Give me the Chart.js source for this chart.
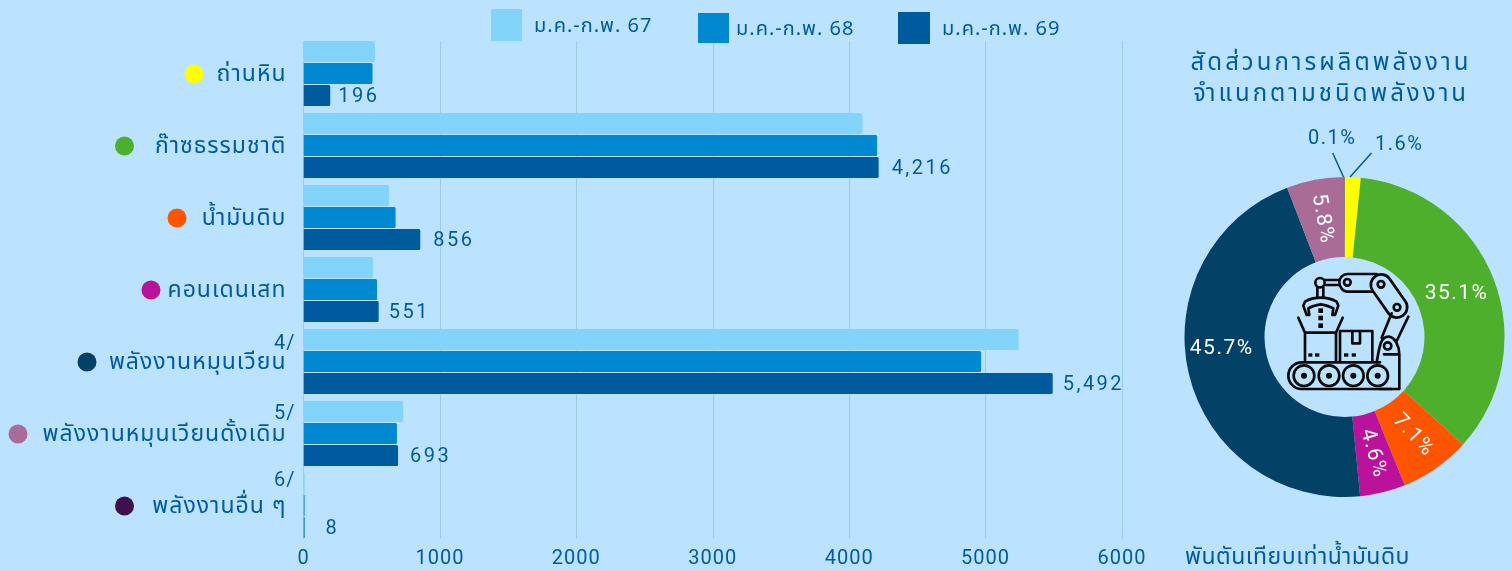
<!DOCTYPE html>
<html><head><meta charset="utf-8">
<style>
html,body{margin:0;padding:0;background:#BBE3FF;width:1512px;height:571px;overflow:hidden}
canvas{position:absolute}
#wrapBar{position:absolute;left:0;top:0;width:1512px;height:571px}
#wrapPie{position:absolute;left:1177px;top:0;width:335px;height:571px}
svg{position:absolute;left:1170px;top:260px}
</style>
<script src="https://cdn.jsdelivr.net/npm/chart.js@4"></script>
</head><body>
<div id="wrapBar"><canvas id="bar"></canvas></div>
<div id="wrapPie"><canvas id="pie"></canvas></div>
<svg width="342" height="311" viewBox="0 0 1026 933" fill="none" stroke="#0a0a0a" stroke-width="8" stroke-linejoin="round" stroke-linecap="round">
<g transform="translate(330 15)">
<path d="M335 372H65C43 372 25 354 25 332C25 310 43 292 65 292H300"/>
<path d="M300 372H358V268C358 245 345 215 325 215C300 215 298 250 290 292M312 268H358"/>
<circle cx="323" cy="243" r="11"/>
<g><circle cx="72" cy="332" r="31"/><circle cx="147" cy="332" r="31"/><circle cx="220" cy="332" r="31"/><circle cx="293" cy="332" r="31"/></g>
<g fill="#0a0a0a" stroke="none"><circle cx="72" cy="332" r="9"/><circle cx="147" cy="332" r="9"/><circle cx="220" cy="332" r="9"/><circle cx="293" cy="332" r="9"/>
<rect x="85" y="265" width="12" height="10"/><rect x="105" y="265" width="13" height="10"/><rect x="192" y="265" width="13" height="10"/><rect x="215" y="265" width="13" height="10"/>
<rect x="115" y="130" width="14" height="14"/><rect x="115" y="152" width="14" height="14"/><rect x="115" y="175" width="14" height="14"/></g>
<path d="M75 288V203H168V288M75 203L55 158M168 203L188 158"/>
<path d="M180 288V198H277V288M217 198V235H240V198"/>
<path d="M305 218L335 145M350 228L385 155"/>
<rect x="255" y="62" width="144" height="62" rx="31" transform="rotate(55 327 93)"/>
<circle cx="303" cy="58" r="10"/><circle cx="351" cy="127" r="10"/>
<path d="M290 27H203C189 27 178 38 178 52C178 67 189 80 203 80H278"/>
<circle cx="202" cy="52" r="10"/>
<path d="M135 45H178M135 60H178"/>
<circle cx="120" cy="53" r="14"/>
<path d="M112 68V97M130 68V97"/>
<path d="M122 98C110 98 88 102 75 110L70 122L80 150H88L85 130C95 124 110 120 122 118C134 120 150 124 160 130L157 150H165L175 122L170 110C156 102 134 98 122 98Z"/>
</g>
</svg>
<script>
const categories = ["ถ่านหิน","ก๊าซธรรมชาติ","น้ำมันดิบ","คอนเดนเสท","พลังงานหมุนเวียน","พลังงานหมุนเวียนดั้งเดิม","พลังงานอื่น ๆ"];
const notes = ["","","","","4/","5/","6/"];
const series67 = [524,4098,627,510,5242,730,9];
const series68 = [506,4205,675,539,4967,685,8];
const series69 = [196,4216,856,551,5492,693,8];
const seriesNames = ["ม.ค.-ก.พ. 67","ม.ค.-ก.พ. 68","ม.ค.-ก.พ. 69"];
const seriesColors = ["#82D4FB","#0088D1","#005A9E"];
const sliceColors = ["#FFFF00","#4DAF2C","#FF5500","#BA129A","#034166","#A96C96","#3E1050"];
const xTicks = [0,1000,2000,3000,4000,5000,6000];
const sliceTurn = [0,0,47,74,0,80,0];

const INK="#005A9E";
const FF = '"Noto Sans Thai","Noto Sans","DejaVu Sans",sans-serif';
const NUM = 'Roboto,"Open Sans",sans-serif';
function txt(ctx,s,x,y,font,color,align,ls){
  ctx.save();ctx.font=font;ctx.fillStyle=color;ctx.textAlign=align||"left";ctx.textBaseline="middle";
  ctx.letterSpacing=(ls||0)+"px";ctx.fillText(s,x,y);ctx.restore();
}
const labelGaps=[8,13,13,10,10,12,21];
const noteShift=[0,0,0,0,-17.5,-19.5,-24.5];
const dotX=[194,124.5,177,151,87,18,124.5];
const legendPos=[[491,9,31,32,534,28],[698,13,31,30,736,31],[898,12,32,32,942,31]];
const barPlugin={id:"barExtras",
  beforeDraw(c){c.ctx.letterSpacing="1px";},
  beforeDatasetsDraw(c){
    const ctx=c.ctx,x=c.scales.x;
    ctx.save();ctx.strokeStyle="#9CCBEC";ctx.lineWidth=1;
    xTicks.forEach(v=>{const p=Math.round(x.getPixelForValue(v)-0.1)+0.5;ctx.beginPath();ctx.moveTo(p,41);ctx.lineTo(p,539);ctx.stroke();});
    ctx.restore();
  },
  afterDraw(c){
    const ctx=c.ctx,y=c.scales.y;
    const last=c.getDatasetMeta(2).data;
    last.forEach((el,i)=>{
      const s=series69[i].toLocaleString("en-US");
      txt(ctx,s,el.x+labelGaps[i],el.y+1,"20px "+NUM,INK,"left",2.5);
    });
    categories.forEach((cat,i)=>{
      const py=y.getPixelForValue(i);
      ctx.beginPath();ctx.arc(dotX[i],py+0.5,9.5,0,Math.PI*2);ctx.fillStyle=sliceColors[i];ctx.fill();
      if(notes[i])txt(ctx,notes[i],274,py+noteShift[i],"20px "+NUM,INK,"left",1);
    });
    seriesNames.forEach((n,i)=>{
      const p=legendPos[i];
      ctx.fillStyle=seriesColors[i];ctx.fillRect(p[0],p[1],p[2],p[3]);
      txt(ctx,n,p[4],p[5],"20px "+FF,INK,"left",1);
    });
  }};
new Chart(document.getElementById("bar"),{type:"bar",
  data:{labels:categories,datasets:[series67,series68,series69].map((d,i)=>({label:seriesNames[i],data:d,backgroundColor:seriesColors[i],borderRadius:1.5,barPercentage:.955,categoryPercentage:.9167}))},
  options:{indexAxis:"y",responsive:true,maintainAspectRatio:false,animation:false,
    layout:{padding:{top:37.5,right:390,left:0,bottom:0}},
    plugins:{legend:{display:false},tooltip:{enabled:false}},
    scales:{
      x:{type:"linear",min:0,max:6000,afterBuildTicks(a){a.ticks=xTicks.map(v=>({value:v}));},afterFit(a){a.height=29.5;a.paddingLeft=0;a.paddingRight=0;},
        grid:{display:false,drawTicks:false},border:{display:false},
        ticks:{color:INK,font:{family:NUM,size:20},padding:5,maxRotation:0,callback:v=>String(v)}},
      y:{afterFit(a){a.width=303.5;a.paddingTop=0;a.paddingBottom=0;},grid:{display:false,drawTicks:false},border:{display:false},
        ticks:{color:INK,font:{family:FF,size:23},padding:17,labelOffset:3}}
    }},
  plugins:[barPlugin]});

const piePlugin={id:"pieExtras",
  afterDraw(c){
    const ctx=c.ctx,ox=-1177;
    txt(ctx,"สัดส่วนการผลิตพลังงาน",1331+ox,65,"24px "+FF,INK,"center",3);
    txt(ctx,"จำแนกตามชนิดพลังงาน",1331+ox,96,"24px "+FF,INK,"center",3);
    txt(ctx,"พันตันเทียบเท่าน้ำมันดิบ",1185+ox,559,"23px "+FF,INK,"left",0.5);
    const meta=c.getDatasetMeta(0).data,total=series69.reduce((a,b)=>a+b,0);
    meta.forEach((arc,i)=>{
      const pct=(series69[i]/total*100).toFixed(1)+"%";
      if(i===0||i===6)return;
      const pt=arc.getCenterPoint();
      ctx.save();ctx.translate(pt.x+(i===4?-6:0),pt.y+(i===4?-16:0));ctx.rotate(sliceTurn[i]*Math.PI/180);
      txt(ctx,pct,0,0,"21px "+NUM,"#fff","center",1.5);ctx.restore();
    });
    ctx.save();ctx.strokeStyle=INK;ctx.lineWidth=1.5;
    ctx.beginPath();ctx.moveTo(1332.7+ox,153);ctx.lineTo(1343.5+ox,177);ctx.moveTo(1371.5+ox,153);ctx.lineTo(1350+ox,177);ctx.stroke();ctx.restore();
    txt(ctx,(series69[6]/total*100).toFixed(1)+"%",1308+ox,139,"20px "+NUM,INK,"left",1.5);
    txt(ctx,(series69[0]/total*100).toFixed(1)+"%",1375+ox,145,"20px "+NUM,INK,"left",1.5);
  }};
new Chart(document.getElementById("pie"),{type:"doughnut",
  data:{labels:categories,datasets:[{data:series69,backgroundColor:sliceColors,borderWidth:0}]},
  options:{responsive:true,maintainAspectRatio:false,animation:false,cutout:"50%",
    layout:{padding:{top:177,bottom:74,left:7,right:7}},
    plugins:{legend:{display:false},tooltip:{enabled:false}}},
  plugins:[piePlugin]});
</script>
</body></html>
